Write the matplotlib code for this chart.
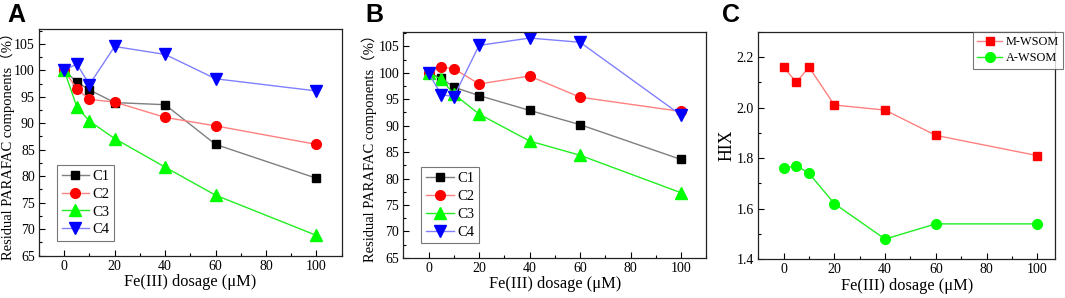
import matplotlib
matplotlib.use("Agg")
import matplotlib.pyplot as plt
from matplotlib.ticker import MultipleLocator

dosage = [0, 5, 10, 20, 40, 60, 100]

a_c1 = [100, 97.8, 96.3, 93.9, 93.5, 86.0, 79.6]
a_c2 = [100, 96.5, 94.5, 94.0, 91.1, 89.5, 86.0]
a_c3 = [100, 93.1, 90.4, 87.1, 81.7, 76.4, 68.8]
a_c4 = [100, 101.2, 97.3, 104.5, 103.0, 98.4, 96.1]

b_c1 = [100, 99.0, 97.3, 95.7, 92.9, 90.2, 83.6]
b_c2 = [100, 101.1, 100.8, 97.9, 99.4, 95.4, 92.7]
b_c3 = [100, 98.8, 96.0, 92.2, 87.1, 84.4, 77.3]
b_c4 = [100, 95.9, 95.5, 105.2, 106.6, 105.8, 92.0]

hix_m = [2.16, 2.10, 2.16, 2.01, 1.99, 1.89, 1.81]
hix_a = [1.76, 1.77, 1.74, 1.62, 1.48, 1.54, 1.54]

comp_labels = ["C1", "C2", "C3", "C4"]
hix_labels = ["M-WSOM", "A-WSOM"]

SERIF = ["Liberation Serif", "Noto Sans CJK SC", "DejaVu Serif"]
plt.rcParams["font.family"] = SERIF

comp_styles = [
    dict(marker="s", mfc="black", mec="black", color="#7f7f7f", ms=6),
    dict(marker="o", mfc="#ff0000", mec="#ff0000", color="#ff8080", ms=7),
    dict(marker="^", mfc="#00ff00", mec="#00ff00", color="#22ee22", ms=8),
    dict(marker="v", mfc="#0000ff", mec="#0000ff", color="#8080ff", ms=8),
]

fig = plt.figure(figsize=(10.65, 2.98), dpi=100)

def style_axes(ax):
    ax.tick_params(which="both", direction="in", top=False, right=False, labelsize=10)
    ax.tick_params(which="major", length=4, width=0.8, pad=3)
    ax.tick_params(which="minor", length=2, width=0.8)
    for s in ax.spines.values():
        s.set_linewidth(0.9)
        s.set_color("#222222")
    ax.xaxis.set_major_locator(MultipleLocator(20))
    ax.xaxis.set_minor_locator(MultipleLocator(10))
    ax.set_xlabel("Fe(III) dosage (\u03bcM)", fontsize=11.8, labelpad=1)

def comp_panel(rect, data, letter, letter_x, label_x):
    ax = fig.add_axes(rect)
    for vals, lab, st in zip(data, comp_labels, comp_styles):
        ax.plot(dosage, vals, lw=1.0, label=lab, **st)
    ax.set_xlim(-10, 110)
    ax.set_ylim(65, 107.8)
    ax.yaxis.set_major_locator(MultipleLocator(5))
    ax.yaxis.set_minor_locator(MultipleLocator(2.5))
    style_axes(ax)
    ax.set_ylabel("Residual PARAFAC components\uff08%\uff09", fontsize=10.5)
    ax.yaxis.set_label_coords(label_x, 0.5)
    leg = ax.legend(loc="lower left", bbox_to_anchor=(0.06, 0.065), fontsize=10.5,
                    frameon=True, fancybox=False, handlelength=1.9, borderpad=0.3,
                    labelspacing=0.32, handletextpad=0.25, borderaxespad=0)
    leg.get_frame().set_edgecolor("#555555")
    leg.get_frame().set_linewidth(0.8)
    fig.text(letter_x, 0.99, letter, fontsize=18, fontweight="bold",
             family="Liberation Sans", va="top", ha="left")
    return ax

comp_panel([0.0366, 0.1426, 0.2842, 0.760], [a_c1, a_c2, a_c3, a_c4], "A", 0.0066, -0.08)
comp_panel([0.3787, 0.1352, 0.2845, 0.7584], [b_c1, b_c2, b_c3, b_c4], "B", 0.3427, -0.087)

rectc = [0.712, 0.1299, 0.2786, 0.7638]
axc = fig.add_axes(rectc)
axc.plot(dosage, hix_m, marker="s", mfc="#ff0000", mec="#ff0000", color="#ff8080",
         ms=6, lw=1.0, label=hix_labels[0])
axc.plot(dosage, hix_a, marker="o", mfc="#00ff00", mec="#00ff00", color="#22ee22",
         ms=7, lw=1.0, label=hix_labels[1])
axc.set_xlim(-10, 107)
axc.set_ylim(1.4, 2.3)
axc.yaxis.set_major_locator(MultipleLocator(0.2))
axc.yaxis.set_minor_locator(MultipleLocator(0.1))
axc.yaxis.set_major_formatter(matplotlib.ticker.FormatStrFormatter("%.1f"))
style_axes(axc)
axc.set_ylabel("HIX", fontsize=12.8)
axc.yaxis.set_label_coords(-0.076, 0.5)
legc = axc.legend(loc="upper right", bbox_to_anchor=(1.027, 1.0), fontsize=8.8,
                  frameon=True, fancybox=False, handlelength=2.0, borderpad=0.35,
                  labelspacing=0.35, handletextpad=0.3, borderaxespad=0)
legc.get_frame().set_edgecolor("#555555")
legc.get_frame().set_linewidth(0.8)
fig.text(0.678, 0.99, "C", fontsize=18, fontweight="bold",
         family="Liberation Sans", va="top", ha="left")

fig.savefig("out.png", dpi=100)
